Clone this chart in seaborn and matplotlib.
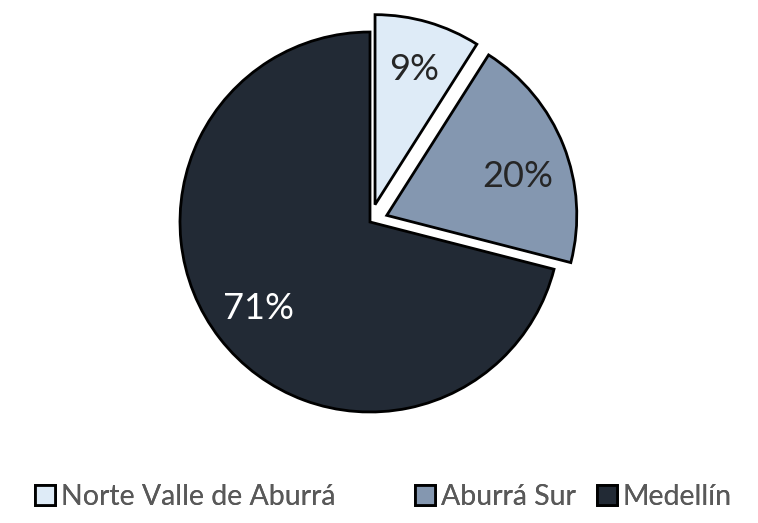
import matplotlib
matplotlib.use('Agg')
import matplotlib.pyplot as plt
import seaborn as sns

# Datos del gráfico
zonas = ['Norte Valle de Aburrá', 'Aburrá Sur', 'Medellín']
porcentajes = [9, 20, 71]
colores = ['#DEEBF7', '#8497B0', '#222A35']
colores_texto = ['#262626', '#262626', '#FFFFFF']
separacion = [0.095, 0.095, 0.0]

sns.set_theme(style='white')
plt.rcParams['font.family'] = ['Lato', 'DejaVu Sans']

fig = plt.figure(figsize=(7.58, 5.23), dpi=100)
ax = fig.add_axes([0, 0, 1, 1])

wedges, textos, autotextos = ax.pie(
    porcentajes, colors=colores, explode=separacion,
    startangle=90, counterclock=False,
    autopct='%1.0f%%', pctdistance=0.74,
    wedgeprops={'edgecolor': 'black', 'linewidth': 2},
    textprops={'fontsize': 26},
)
for t, c in zip(autotextos, colores_texto):
    t.set_color(c)
# pequeño ajuste de la etiqueta del 20%
x, y = autotextos[1].get_position()
autotextos[1].set_position((x, y - 0.07))

# escala: radio 1 = 190 px, centro en (370, 222) px
ax.set_xlim(-370 / 190, 388 / 190)
ax.set_ylim(-301 / 190, 222 / 190)
ax.set_aspect('equal', adjustable='box')
ax.axis('off')

# una leyenda por entrada, como en el original
pos_leyenda = [35 / 758, 415 / 758, 597 / 758]
for w, nombre, px in zip(wedges, zonas, pos_leyenda):
    leg = fig.legend([w], [nombre], loc='center left', bbox_to_anchor=(px, 1 - 497 / 523),
                     frameon=False, fontsize=20.5, handlelength=0.7, handleheight=0.7,
                     handletextpad=0.2, borderpad=0, borderaxespad=0,
                     labelcolor='#595959')
    fig.add_artist(leg)

fig.savefig('out.png', dpi=100)
